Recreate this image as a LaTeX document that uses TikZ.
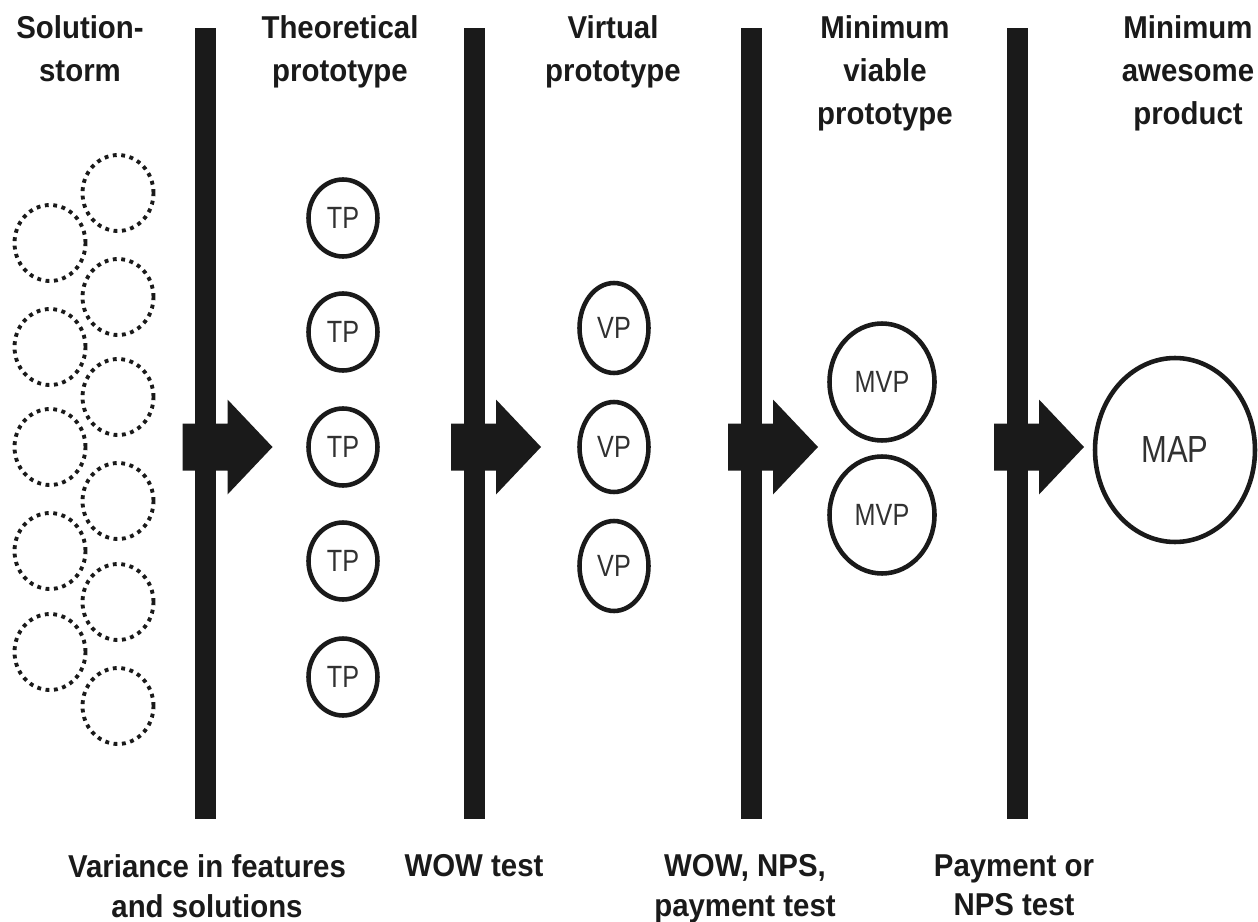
\documentclass[tikz,border=0pt]{standalone}
\usepackage{fontspec}
\setmainfont{Liberation Sans}
\newfontfamily\condfont[FakeStretch=0.82]{Liberation Sans}
\newfontfamily\labelfont[FakeStretch=0.93]{Liberation Sans}
\usetikzlibrary{shapes.geometric}
\definecolor{ink}{HTML}{1A1A1A}
\begin{document}
\begin{tikzpicture}[x=0.02cm,y=-0.02cm,
  barfill/.style={fill=ink},
  idea/.style={ellipse, draw=ink, line width=2.2pt, dash pattern=on 2.2pt off 2.6pt,
    minimum width=1.42cm, minimum height=1.52cm, inner sep=0pt},
  proto/.style={ellipse, draw=ink, line width=2.6pt, inner sep=0pt,
    font=\condfont\fontsize{17.5}{20}\selectfont, text=ink!90},
  headlbl/.style={font=\labelfont\bfseries\fontsize{18}{24.4}\selectfont, align=center,
    anchor=north, inner sep=0pt, text=ink},
  footlbl/.style={font=\labelfont\bfseries\fontsize{18}{22.7}\selectfont, align=center,
    anchor=north, inner sep=0pt, text=ink}]
\useasboundingbox (0,0) rectangle (1258,922);

% vertical bars and block arrows
\foreach \c in {205.5,474,751,1017}{
  \fill[barfill] (\c-10.5,28) rectangle (\c+10.5,819);
  \fill[barfill] (\c-23,423.5) -- (\c+22,423.5) -- (\c+22,399.5) -- (\c+67,447)
     -- (\c+22,494.5) -- (\c+22,470.5) -- (\c-23,470.5) -- cycle;
}

% headings
\node[headlbl] (h1) at (80,15) {Solution-\\storm};
\node[headlbl] (h2) at (340,15) {Theoretical\\prototype};
\node[headlbl] (h3) at (613,15) {Virtual\\prototype};
\node[headlbl] (h4) at (885,15) {Minimum\\viable\\prototype};
\node[headlbl] (h5) at (1188,15) {Minimum\\awesome\\product};

% solution storm (dotted)
\node[idea] (s1) at (118,193) {};
\node[idea] (s2) at (50,243) {};
\node[idea] (s3) at (118,297) {};
\node[idea] (s4) at (50,347) {};
\node[idea] (s5) at (118,397) {};
\node[idea] (s6) at (50,447) {};
\node[idea] (s7) at (118,501) {};
\node[idea] (s8) at (50,551) {};
\node[idea] (s9) at (118,602) {};
\node[idea] (s10) at (50,652) {};
\node[idea] (s11) at (118,706) {};

% theoretical prototypes
\foreach \y [count=\i] in {218,332,447,561,677}{
  \node[proto, minimum width=1.38cm, minimum height=1.54cm] (tp\i) at (343,\y) {TP};
}

% virtual prototypes
\foreach \y [count=\i] in {328,447,566}{
  \node[proto, minimum width=1.38cm, minimum height=1.8cm] (vp\i) at (614,\y) {VP};
}

% minimum viable prototypes
\node[proto, minimum width=2.1cm, minimum height=2.34cm] (mvp1) at (882,382) {MVP};
\node[proto, minimum width=2.1cm, minimum height=2.34cm] (mvp2) at (882,515) {MVP};

% minimum awesome product
\node[proto, minimum width=3.2cm, minimum height=3.68cm,
  font=\condfont\fontsize{21.5}{24}\selectfont] (map) at (1175,450) {MAP};

% bottom labels
\node[footlbl] (f1) at (207,854) {Variance in features\\and solutions};
\node[footlbl] (f2) at (474,854) {WOW test};
\node[footlbl] (f3) at (745,854) {WOW, NPS,\\payment test};
\node[footlbl] (f4) at (1014,854) {Payment or\\NPS test};
\end{tikzpicture}
\end{document}
